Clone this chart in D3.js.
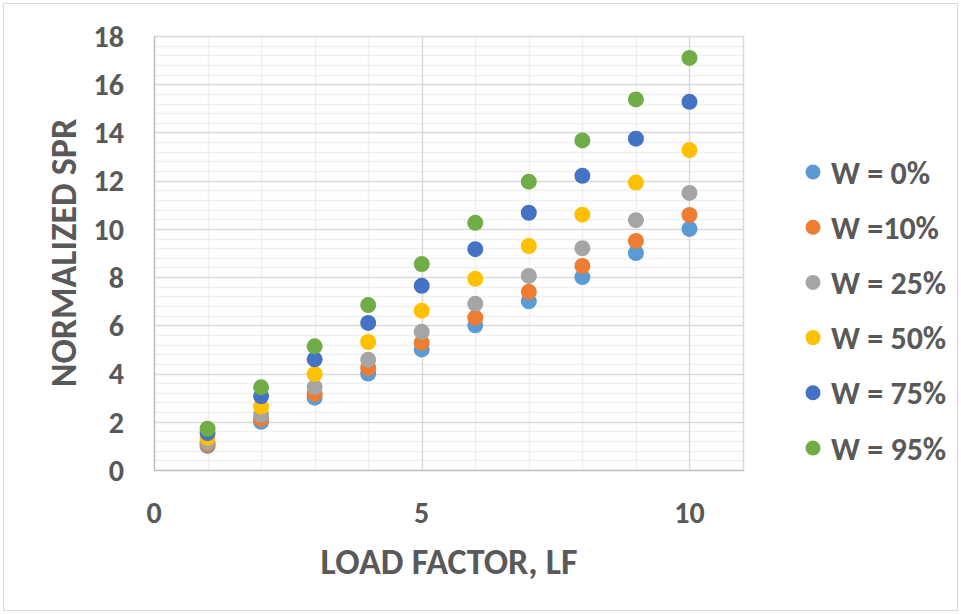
<!DOCTYPE html>
<html>
<head>
<meta charset="utf-8">
<script src="https://cdn.jsdelivr.net/npm/d3@7"></script>
<style>
  body { margin: 0; background: #fff; }
  text { font-family: Calibri, Carlito, "Open Sans", sans-serif; font-weight: bold; fill: #595959; }
</style>
</head>
<body>
<script>
  // data
  const loadFactor = [1, 2, 3, 4, 5, 6, 7, 8, 9, 10];
  const seriesNames = ["W = 0%", "W =10%", "W = 25%", "W = 50%", "W = 75%", "W = 95%"];
  const w0  = [1.00, 2.00, 3.00, 4.00, 5.00, 6.00, 7.00, 8.00, 9.00, 10.00];
  const w10 = [1.06, 2.12, 3.16, 4.23, 5.28, 6.32, 7.39, 8.46, 9.50, 10.58];
  const w25 = [1.15, 2.29, 3.44, 4.57, 5.73, 6.89, 8.05, 9.20, 10.36, 11.49];
  const w50 = [1.33, 2.63, 3.98, 5.31, 6.61, 7.93, 9.29, 10.59, 11.92, 13.27];
  const w75 = [1.53, 3.06, 4.59, 6.10, 7.64, 9.16, 10.67, 12.20, 13.74, 15.27];
  const w95 = [1.71, 3.43, 5.13, 6.84, 8.54, 10.25, 11.96, 13.67, 15.37, 17.09];
  const seriesValues = [w0, w10, w25, w50, w75, w95];
  const colors = ["#5B9BD5", "#ED7D31", "#A5A5A5", "#FFC000", "#4472C4", "#70AD47"];
  const xTicks = [0, 5, 10];
  const yTicks = [0, 2, 4, 6, 8, 10, 12, 14, 16, 18];

  const W = 961, H = 614;
  const pLeft = 154, pRight = 743, pTop = 36, pBottom = 470;

  const x = d3.scaleLinear().domain([0, 11]).range([pLeft, pRight]);
  const y = d3.scaleLinear().domain([0, 18]).range([pBottom, pTop]);

  const svg = d3.select("body").append("svg")
    .attr("width", W).attr("height", H);

  // outer chart border
  svg.append("rect")
    .attr("x", 3.5).attr("y", 3.5)
    .attr("width", W - 7).attr("height", H - 7)
    .attr("fill", "#fff").attr("stroke", "#d9d9d9");

  // minor gridlines
  const minorY = d3.range(0, 18.001, 0.4).filter(v => Math.abs(v / 2 - Math.round(v / 2)) > 1e-6);
  svg.append("g").selectAll("line")
    .data(minorY).enter().append("line")
    .attr("x1", pLeft).attr("x2", pRight)
    .attr("y1", d => Math.round(y(d)) + 0.5).attr("y2", d => Math.round(y(d)) + 0.5)
    .attr("stroke", "#f0f0f0").attr("stroke-width", 1.5);

  const minorX = d3.range(1, 11).filter(v => v % 5 !== 0);
  svg.append("g").selectAll("line")
    .data(minorX).enter().append("line")
    .attr("x1", d => Math.round(x(d)) + 0.5).attr("x2", d => Math.round(x(d)) + 0.5)
    .attr("y1", pTop).attr("y2", pBottom)
    .attr("stroke", "#f0f0f0").attr("stroke-width", 1.5);

  // major gridlines
  svg.append("g").selectAll("line")
    .data(yTicks.slice(1)).enter().append("line")
    .attr("x1", pLeft).attr("x2", pRight)
    .attr("y1", d => Math.round(y(d)) + 0.5).attr("y2", d => Math.round(y(d)) + 0.5)
    .attr("stroke", "#d9d9d9").attr("stroke-width", 1.5);

  svg.append("g").selectAll("line")
    .data([5, 10, 11]).enter().append("line")
    .attr("x1", d => Math.round(x(d)) + 0.5).attr("x2", d => Math.round(x(d)) + 0.5)
    .attr("y1", pTop).attr("y2", pBottom)
    .attr("stroke", "#d9d9d9").attr("stroke-width", 1.5);

  // axis lines
  svg.append("line")
    .attr("x1", pLeft + 0.5).attr("x2", pLeft + 0.5)
    .attr("y1", pTop).attr("y2", pBottom + 1)
    .attr("stroke", "#bfbfbf").attr("stroke-width", 1.5);
  svg.append("line")
    .attr("x1", pLeft).attr("x2", pRight + 1)
    .attr("y1", pBottom + 0.5).attr("y2", pBottom + 0.5)
    .attr("stroke", "#bfbfbf").attr("stroke-width", 1.5);

  // tick labels
  svg.append("g").selectAll("text")
    .data(yTicks).enter().append("text")
    .attr("x", 124).attr("y", d => y(d))
    .attr("dy", "0.36em")
    .attr("text-anchor", "end")
    .style("font-size", "30px")
    .text(d => d);

  svg.append("g").selectAll("text")
    .data(xTicks).enter().append("text")
    .attr("x", d => x(d)).attr("y", 523)
    .attr("text-anchor", "middle")
    .style("font-size", "30px")
    .text(d => d);

  // axis titles
  svg.append("text")
    .attr("x", (pLeft + pRight) / 2 + 0.5).attr("y", 574)
    .attr("text-anchor", "middle")
    .style("font-size", "36px")
    .text("LOAD FACTOR, LF");

  svg.append("text")
    .attr("transform", `translate(76, ${(pTop + pBottom) / 2}) rotate(-90)`)
    .attr("text-anchor", "middle")
    .style("font-size", "36px")
    .text("NORMALIZED SPR");

  // points
  seriesValues.forEach((vals, s) => {
    svg.append("g").selectAll("circle")
      .data(vals).enter().append("circle")
      .attr("cx", (d, i) => x(loadFactor[i]))
      .attr("cy", d => y(d))
      .attr("r", 8)
      .attr("fill", colors[s]);
  });

  // legend
  const legend = svg.append("g").selectAll("g")
    .data(seriesNames).enter().append("g")
    .attr("transform", (d, i) => `translate(813, ${172 + i * 55.2})`);
  legend.append("circle")
    .attr("r", 7.5)
    .attr("fill", (d, i) => colors[i]);
  legend.append("text")
    .attr("x", 18).attr("dy", "0.36em")
    .style("font-size", "32px")
    .text(d => d);
</script>
</body>
</html>
